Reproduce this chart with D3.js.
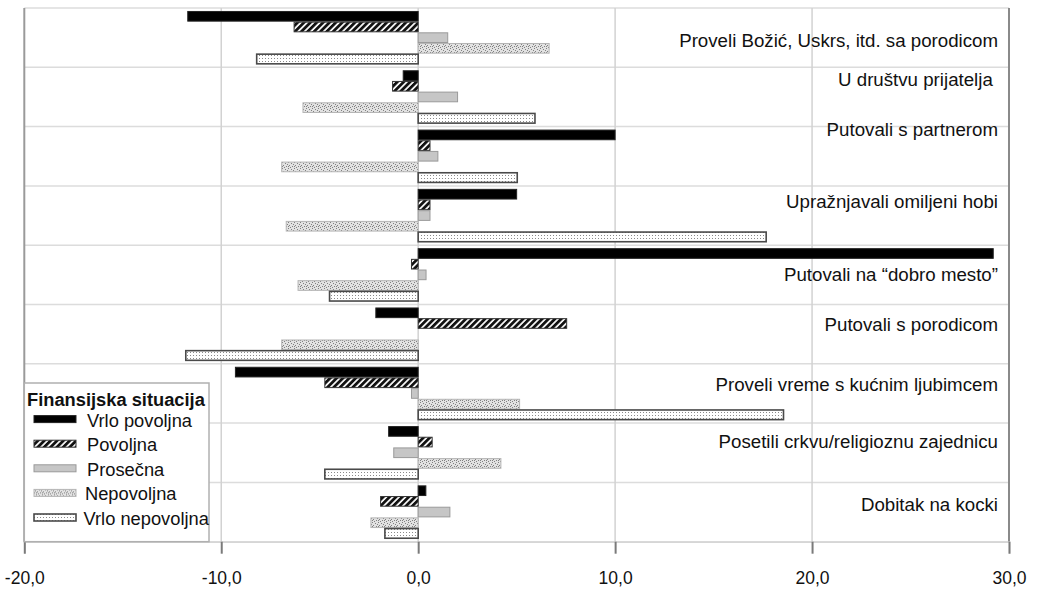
<!DOCTYPE html>
<html>
<head>
<meta charset="utf-8">
<script src="https://cdn.jsdelivr.net/npm/d3@7"></script>
<style>
  html, body { margin: 0; padding: 0; background: #fff; }
  svg { display: block; font-family: "Liberation Sans", Arial, sans-serif; }
</style>
</head>
<body>
<svg id="chart" width="1037" height="589"></svg>
<script>
// ---------------- DATA ----------------
const categories = [
  "Proveli Božić, Uskrs, itd. sa porodicom",
  "U društvu prijatelja ",
  "Putovali s partnerom",
  "Upražnjavali omiljeni hobi",
  "Putovali na “dobro mesto”",
  "Putovali s porodicom",
  "Proveli vreme s kućnim ljubimcem",
  "Posetili crkvu/religioznu zajednicu",
  "Dobitak na kocki"
];
const seriesNames = ["Vrlo povoljna", "Povoljna", "Prosečna", "Nepovoljna", "Vrlo nepovoljna"];
const vrloPovoljna   = [-11.7, -0.76, 10.0,  5.0, 29.2, -2.15, -9.28, -1.5,  0.39];
const povoljna       = [-6.3,  -1.3,   0.6,  0.6, -0.34, 7.54, -4.74,  0.71, -1.91];
const prosecna       = [ 1.5,   2.0,   1.0,  0.6,  0.4,  0.0,  -0.34, -1.24,  1.61];
const nepovoljna     = [ 6.65, -5.85, -6.93, -6.7, -6.1, -6.93, 5.15,  4.2,  -2.4];
const vrloNepovoljna = [-8.2,   5.93,  5.03, 17.67, -4.5, -11.8, 18.55, -4.74, -1.69];
const tickValues = [-20, -10, 0, 10, 20, 30];
const tickLabels = ["-20,0", "-10,0", "0,0", "10,0", "20,0", "30,0"];
const legendTitle = "Finansijska situacija";

// ---------------- LAYOUT ----------------
const seriesValues = [vrloPovoljna, povoljna, prosecna, nepovoljna, vrloNepovoljna];
const labelDy = [3, -17, -27, -14, 0, -10, -9, -11, -8];
const fills = ["#000", "url(#hatch)", "#c6c6c6", "url(#speck)", "url(#dots)"];
const strokes = ["#222", "#333", "#9a9a9a", "#b5b5b5", "#4a4a4a"];
const strokeW = [1, 1, 1, 1, 1.6];

const svg = d3.select("#chart");
const pLeft = 24.3, pRight = 1009, pTop = 8, pBottom = 541.7;

const x = d3.scaleLinear().domain([-20, 30]).range([pLeft, pRight]);
const y = d3.scaleBand().domain(categories).range([pTop, pBottom]).paddingInner(0.1).paddingOuter(0.05);
const ys = d3.scaleBand().domain(seriesNames).range([0, y.bandwidth()]);

// patterns
const defs = svg.append("defs");
const hatch = defs.append("pattern").attr("id", "hatch").attr("patternUnits", "userSpaceOnUse")
  .attr("width", 4.5).attr("height", 4.5).attr("patternTransform", "rotate(45)");
hatch.append("rect").attr("width", 4.5).attr("height", 4.5).attr("fill", "#fff");
hatch.append("rect").attr("width", 2.8).attr("height", 4.5).attr("fill", "#111");

const speck = defs.append("pattern").attr("id", "speck").attr("patternUnits", "userSpaceOnUse")
  .attr("width", 6).attr("height", 6);
speck.append("rect").attr("width", 6).attr("height", 6).attr("fill", "#e2e2e2");
[[0,0],[3,1],[1,3],[4,4],[5,2],[2,5],[0,4]].forEach(([a,b]) =>
  speck.append("rect").attr("x", a).attr("y", b).attr("width", 1).attr("height", 1).attr("fill", "#808080"));

const dots = defs.append("pattern").attr("id", "dots").attr("patternUnits", "userSpaceOnUse")
  .attr("width", 3).attr("height", 3);
dots.append("rect").attr("width", 3).attr("height", 3).attr("fill", "#fff");
dots.append("rect").attr("x", 1).attr("y", 1).attr("width", 1).attr("height", 1).attr("fill", "#8a8a8a");

// horizontal gridlines (band boundaries)
const hLines = d3.range(categories.length + 1).map(i => pTop + i * y.step());
svg.append("g").selectAll("line").data(hLines).join("line")
  .attr("x1", pLeft).attr("x2", pRight).attr("y1", d => d).attr("y2", d => d)
  .attr("stroke", "#dcdcdc").attr("stroke-width", 1.5);

// vertical gridlines
svg.append("g").selectAll("line").data(tickValues.slice(1, -1)).join("line")
  .attr("x1", d => x(d)).attr("x2", d => x(d)).attr("y1", pTop).attr("y2", pBottom)
  .attr("stroke", "#d2d2d2").attr("stroke-width", 1.5);

// left & right borders
svg.append("line").attr("x1", pLeft).attr("x2", pLeft).attr("y1", pTop).attr("y2", pBottom)
  .attr("stroke", "#9a9a9a").attr("stroke-width", 2);
svg.append("line").attr("x1", pRight).attr("x2", pRight).attr("y1", pTop).attr("y2", pBottom)
  .attr("stroke", "#8a8a8a").attr("stroke-width", 2);

// bottom axis
const xAxis = d3.axisBottom(x).tickValues(tickValues).tickSize(12).tickPadding(18)
  .tickFormat((d, i) => tickLabels[i]);
const ax = svg.append("g").attr("transform", `translate(0,${pBottom})`).call(xAxis);
ax.select(".domain").attr("stroke", "#d6d6d6").attr("stroke-width", 1.5);
ax.selectAll(".tick line").attr("stroke", "#7a7a7a").attr("stroke-width", 2);
ax.selectAll(".tick text").attr("font-size", 17.5).attr("fill", "#111")
  .attr("font-family", "'Liberation Sans', Arial, sans-serif");

// bars
const rows = [];
categories.forEach((c, i) => seriesNames.forEach((s, j) => rows.push({ c, s, j, v: seriesValues[j][i] })));
svg.append("g").selectAll("rect").data(rows.filter(d => d.v !== 0)).join("rect")
  .attr("x", d => x(Math.min(0, d.v)))
  .attr("width", d => Math.abs(x(d.v) - x(0)))
  .attr("y", d => y(d.c) + ys(d.s) + 0.5)
  .attr("height", ys.bandwidth() - 1)
  .attr("fill", d => fills[d.j])
  .attr("stroke", d => strokes[d.j])
  .attr("stroke-width", d => strokeW[d.j]);

// category labels
svg.append("g").selectAll("text").data(categories).join("text")
  .attr("x", 998)
  .attr("y", (d, i) => y(d) + y.bandwidth() / 2 + labelDy[i])
  .attr("dy", "0.35em")
  .attr("text-anchor", "end")
  .attr("font-size", 18.7)
  .attr("fill", "#111")
  .style("white-space", "pre")
  .text(d => d);

// legend
const lg = svg.append("g");
lg.append("rect").attr("x", pLeft).attr("y", 383).attr("width", 209 - pLeft).attr("height", pBottom - 383)
  .attr("fill", "#fff").attr("stroke", "#b0b0b0").attr("stroke-width", 1.5);
lg.append("text").attr("x", 27).attr("y", 405.5).attr("font-size", 18.3).attr("font-weight", "bold")
  .attr("fill", "#111").text(legendTitle);
const items = lg.selectAll("g.item").data(seriesNames).join("g").attr("class", "item")
  .attr("transform", (d, i) => `translate(0,${426.6 + i * 24.6})`);
items.append("rect").attr("x", 34).attr("y", -11).attr("width", 42).attr("height", 7)
  .attr("fill", (d, i) => fills[i]).attr("stroke", (d, i) => strokes[i]).attr("stroke-width", (d, i) => strokeW[i]);
items.append("text").attr("x", (d, i) => [87, 87, 87, 85, 83.5][i]).attr("y", 0)
  .attr("font-size", 18.3).attr("fill", "#111").text(d => d);
</script>
</body>
</html>
